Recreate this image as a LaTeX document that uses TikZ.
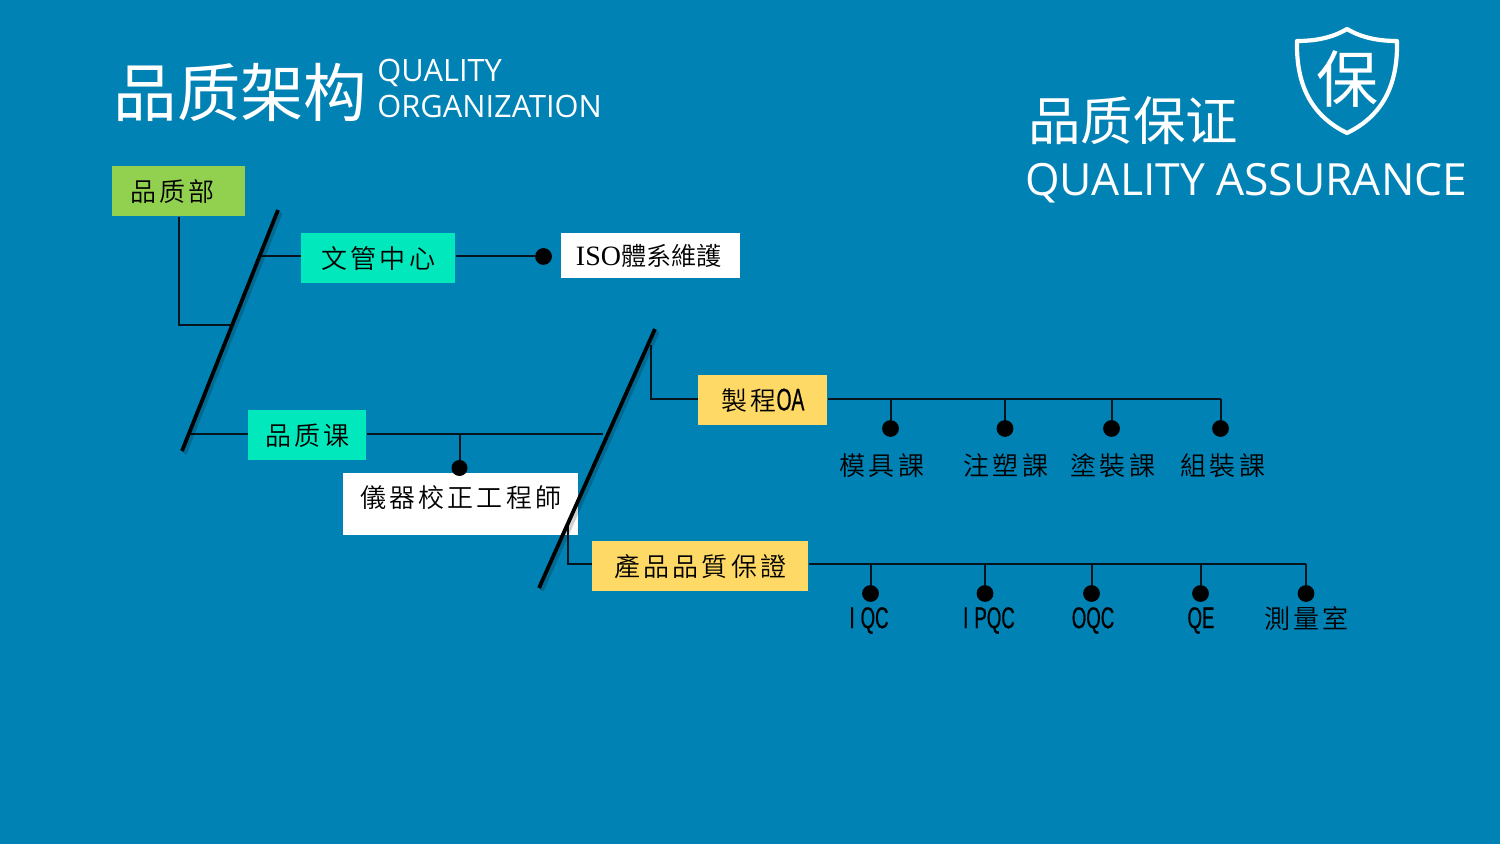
\documentclass[tikz,border=0pt]{standalone}
\usepackage{fontspec}
\setmainfont{Open Sans}
\newfontfamily\screg{Noto Sans CJK SC}
\newfontfamily\tcbox[LetterSpace=12]{Noto Sans CJK TC DemiLight}
\newfontfamily\tcplain{Noto Sans CJK TC DemiLight}
\newfontfamily\serifl{Liberation Serif}
\newfontfamily\halfw[FakeStretch=0.62,FakeBold=0.6]{Liberation Sans}
\newfontfamily\latinui{Open Sans}
\newcommand{\gapI}{I\kern3pt}
\definecolor{bgblue}{HTML}{0082B4}
\definecolor{boxgreen}{HTML}{92D050}
\definecolor{boxteal}{HTML}{00E8BC}
\definecolor{boxyellow}{HTML}{FFD966}
\definecolor{linedark}{HTML}{06141E}
\tikzset{
  orgbox/.style={rectangle,inner sep=0pt,text=black,font=\tcbox\fontsize{13}{15}\selectfont,anchor=north west,align=center},
  lab/.style={inner sep=0pt,text=black,font=\tcbox\fontsize{13}{15}\selectfont},
  lat/.style={inner sep=0pt,text=black,font=\halfw\fontsize{15}{17}\selectfont},
  conn/.style={draw=linedark,line width=1pt},
  slant/.style={draw=black,line width=1.9pt},
  slantshadow/.style={draw=black,opacity=0.18,line width=2.4pt},
  dotmark/.style={circle,fill=black,inner sep=0pt,minimum size=8.4pt},
  ttl/.style={inner sep=0pt,text=white}
}
\begin{document}
\begin{tikzpicture}[x=0.5pt,y=-0.5pt]
\useasboundingbox[fill=bgblue] (0,0) rectangle (1500,844);

% titles
\node[ttl,anchor=center,font=\screg\fontsize{31.7}{36}\selectfont] (t1) at (240.5,92) {品质架构};
\node[ttl,anchor=west,font=\latinui\fontsize{15.4}{18}\selectfont] (t2) at (377,73) {QUALITY};
\node[ttl,anchor=west,font=\latinui\fontsize{15.4}{18}\selectfont] (t3) at (377,106.5) {ORGANIZATION};
\node[ttl,anchor=center,font=\screg\fontsize{26.2}{30}\selectfont] (t4) at (1133,121) {品质保证};
\node[ttl,anchor=west,font=\latinui\fontsize{22.2}{26}\selectfont] (t5) at (1025,183) {QUALITY ASSURANCE};

% shield
\draw[white,line width=2.1pt,line join=round,fill=none]
  (1347,29) .. controls (1332,38) and (1315,41) .. (1297,41)
  .. controls (1296,86) and (1312,116) .. (1347,133)
  .. controls (1382,116) and (1398,86) .. (1397,41)
  .. controls (1379,41) and (1362,38) .. (1347,29) -- cycle;
\node[ttl,font=\screg\fontsize{31}{34}\selectfont] (shieldtxt) at (1347,79) {保};

% named points
\coordinate (b1t) at (278,210);
\coordinate (b1b) at (182,451);
\coordinate (b2t) at (655,329);
\coordinate (b2b) at (539,588);
\coordinate (j1) at (179,325);
\coordinate (j1e) at (231,325);
\coordinate (j2) at (261,256.5);
\coordinate (j3) at (190,434);
\coordinate (j4) at (603,434);
\coordinate (j5) at (459.5,434);
\coordinate (j6) at (650.5,345);
\coordinate (j7) at (650.5,399);
\coordinate (j8) at (568,525);
\coordinate (j9) at (568,564);
\coordinate (e1) at (1220.5,399);
\coordinate (e2) at (1306,564);

% boxes
\node[orgbox,fill=boxgreen,minimum width=66.5pt,minimum height=25pt] (dept) at (112,166) {\raisebox{1pt}{品质部\hspace*{6.5pt}}};
\node[orgbox,fill=boxteal,minimum width=77pt,minimum height=25pt] (doc) at (301,233) {\raisebox{1pt}{文管中心}};
\node[orgbox,fill=white,minimum width=89.5pt,minimum height=22.5pt,font=\tcplain\fontsize{12.6}{14}\selectfont] (iso) at (561,233) {{\serifl\fontsize{14}{15}\selectfont ISO}體系維護\hspace*{2pt}};
\node[orgbox,fill=boxteal,minimum width=59pt,minimum height=25pt] (qc) at (248,410) {品质课};
\node[orgbox,fill=white,minimum width=117.5pt,minimum height=31pt,text depth=8pt] (cal) at (343,473) {儀器校正工程師};
\node[orgbox,fill=boxyellow,minimum width=64.5pt,minimum height=25pt] (pqa) at (698,375) {\raisebox{1pt}{製程{\halfw\fontsize{15.5}{17}\selectfont OA}}};
\node[orgbox,fill=boxyellow,minimum width=108pt,minimum height=25pt] (pa) at (592,541) {\raisebox{1pt}{產品品質保證}};

% connectors
\draw[conn] (dept.south -| j1) -- (j1) -- (j1e);
\draw[conn] (j2) -- (doc.west |- j2);
\node[dotmark] (d0) at (543.5,256.5) {};
\draw[conn] (doc.east |- d0) -- (d0);
\draw[conn] (j3) -- (qc.west |- j3);
\draw[conn] (qc.east |- j3) -- (j4);
\node[dotmark,minimum size=8pt] (d1) at (459.5,468) {};
\draw[conn] (j5) -- (d1);
\draw[conn] (j6) -- (j7) -- (pqa.west |- j7);
\draw[conn] (j8) -- (j9) -- (pa.west |- j9);
\draw[conn] (pqa.east |- j7) -- (e1);
\draw[conn] (pa.east |- j9) -- (e2);

% slanted bars
\draw[slantshadow,transform canvas={xshift=1.2pt,yshift=-1.2pt}] (b1t) -- (b1b);
\draw[slantshadow,transform canvas={xshift=1.2pt,yshift=-1.2pt}] (b2t) -- (b2b);
\draw[slant] (b1t) -- (b1b);
\draw[slant] (b2t) -- (b2b);

% upper ticks
\foreach \n/\x in {a/890.5,b/1005,c/1111.5,d/1220.5}{
  \node[dotmark] (u\n) at (\x,428.5) {};
  \draw[conn] (u\n |- e1) -- (u\n);
}
% lower ticks
\foreach \n/\x in {a/870.5,b/985,c/1091.5,d/1200.5,e/1306}{
  \node[dotmark] (l\n) at (\x,593.5) {};
  \draw[conn] (l\n |- e2) -- (l\n);
}

% labels
\node[lab] (la1) at (882,466) {模具課};
\node[lab] (la2) at (1006,466) {注塑課};
\node[lab] (la3) at (1113,465.5) {塗裝課};
\node[lab] (la4) at (1223,465.5) {組裝課};
\node[lat] (lb1) at (869,620.5) {\gapI QC};
\node[lat] (lb2) at (989,620.5) {\gapI PQC};
\node[lat] (lb3) at (1093,620.5) {OQC};
\node[lat] (lb4) at (1201,620.5) {QE};
\node[lab] (lb5) at (1306.5,618.5) {測量室};
\end{tikzpicture}
\end{document}
